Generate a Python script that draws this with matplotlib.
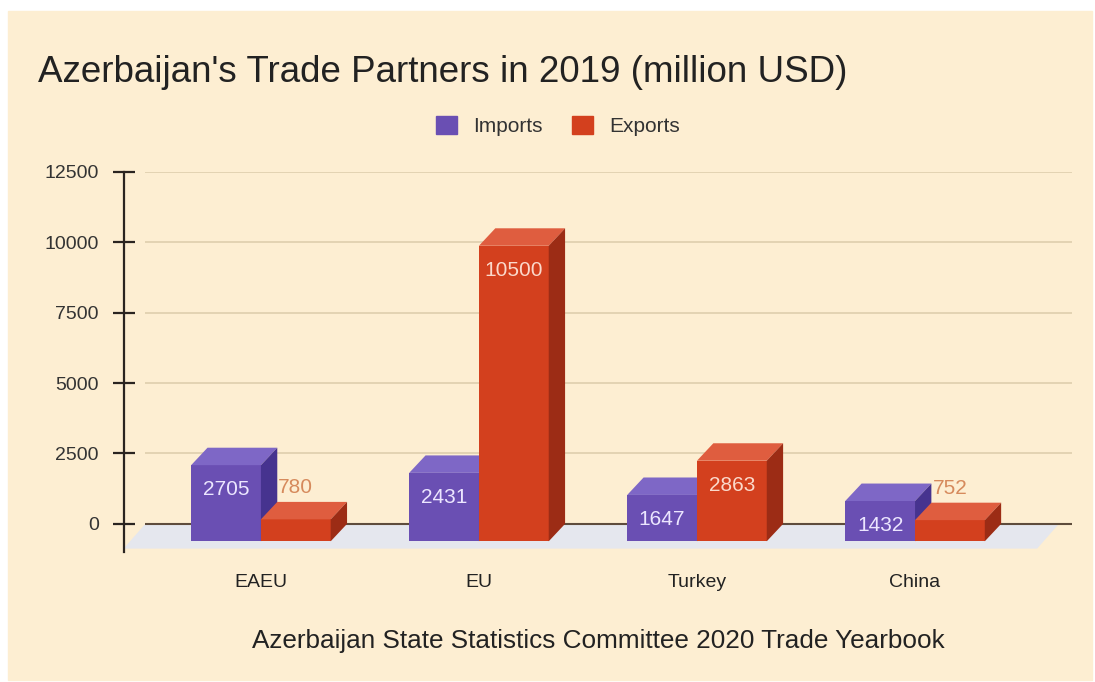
import matplotlib
matplotlib.use('Agg')
import matplotlib.pyplot as plt
from matplotlib.patches import Polygon, Rectangle, Patch

plt.rcParams['font.family'] = ['Liberation Sans', 'DejaVu Sans']

# data
categories = ['EAEU', 'EU', 'Turkey', 'China']
imports = [2705, 2431, 1647, 1432]
exports = [780, 10500, 2863, 752]
y_ticks = [0, 2500, 5000, 7500, 10000, 12500]

title = "Azerbaijan's Trade Partners in 2019 (million USD)"
source = "Azerbaijan State Statistics Committee 2020 Trade Yearbook"

bg = '#fdeed2'
imp_cols = ('#6a4fb3', '#7e67c6', '#46338f')   # front, top, side
exp_cols = ('#d3401e', '#df5d3f', '#9c2c15')

W, H = 1095, 682
fig = plt.figure(figsize=(W / 100, H / 100), dpi=100)
fig.patches.append(Rectangle((8 / W, 2 / H), 1084 / W, 669 / H,
                             transform=fig.transFigure, color=bg, zorder=-10))

ax = fig.add_axes([124 / W, 130 / H, 948 / W, 380 / H])
ax.patch.set_visible(False)
ax.set_xlim(-0.628, 3.72)
ax.set_ylim(-1000, 12500)

w = 0.32      # bar face width
dx = 0.075    # depth, x
dy = 620      # depth, y (value units)

# floor and grid
x_left, x_right = -0.53, 3.72
ax.add_patch(Polygon([(x_left, 0), (3.66, 0), (3.56, -880), (x_left - 0.1, -880)],
                     closed=True, color='#e5e7ee', zorder=1, lw=0))
ax.hlines(y_ticks[1:], x_left, x_right, color='#e3d3b3', lw=1.4, zorder=1)
ax.hlines(0, x_left, x_right, color='#5e4c3c', lw=1.5, zorder=2)


def draw_bar(x0, v, cols):
    front, top, side = cols
    ax.add_patch(Rectangle((x0, -dy), w, v, color=front, lw=0, zorder=3))
    ax.add_patch(Polygon([(x0, v - dy), (x0 + w, v - dy), (x0 + w + dx, v), (x0 + dx, v)],
                         closed=True, color=top, lw=0, zorder=3))
    ax.add_patch(Polygon([(x0 + w, -dy), (x0 + w + dx, 0), (x0 + w + dx, v), (x0 + w, v - dy)],
                         closed=True, color=side, lw=0, zorder=3))


for i, (vi, ve) in enumerate(zip(imports, exports)):
    draw_bar(i - w, vi, imp_cols)
    draw_bar(i, ve, exp_cols)
    ax.text(i - w / 2, vi - dy - 880, str(vi), ha='center', va='center',
            fontsize=15, color='#ece6ff', zorder=5)
    if ve > 2000:
        ax.text(i + w / 2, ve - dy - 880, str(ve), ha='center', va='center',
                fontsize=15, color='#fbd9cb', zorder=5)
    else:
        ax.text(i + w / 2, ve + 510, str(ve), ha='center', va='center',
                fontsize=15, color='#d68a5c', zorder=5)

# axes styling
for s in ['top', 'right', 'bottom']:
    ax.spines[s].set_visible(False)
ax.spines['left'].set_color('#2a2420')
ax.spines['left'].set_linewidth(1.6)
ax.set_yticks(y_ticks)
ax.set_yticklabels([str(t) for t in y_ticks])
ax.tick_params(axis='y', direction='inout', length=16, width=1.6, color='#2a2420',
               labelsize=14, pad=10, labelcolor='#333333')
ax.set_xticks(range(len(categories)))
ax.set_xticklabels(categories)
ax.tick_params(axis='x', length=0, pad=16, labelsize=14, labelcolor='#222222')

fig.text(38 / W, 1 - 72 / H, title, fontsize=26.5, ha='left', va='center', color='#222222')
fig.text(598 / W, 1 - 641 / H, source, fontsize=18.8, ha='center', va='center', color='#222222')

handles = [Patch(color=imp_cols[0], label='Imports'), Patch(color=exp_cols[0], label='Exports')]
fig.legend(handles=handles, loc='center', bbox_to_anchor=(558 / W, 1 - 126 / H), ncol=2,
           frameon=False, fontsize=15, handlelength=1.0, handleheight=1.0,
           columnspacing=1.4, handletextpad=0.8, labelcolor='#333333')

fig.savefig('out.png', dpi=100)
